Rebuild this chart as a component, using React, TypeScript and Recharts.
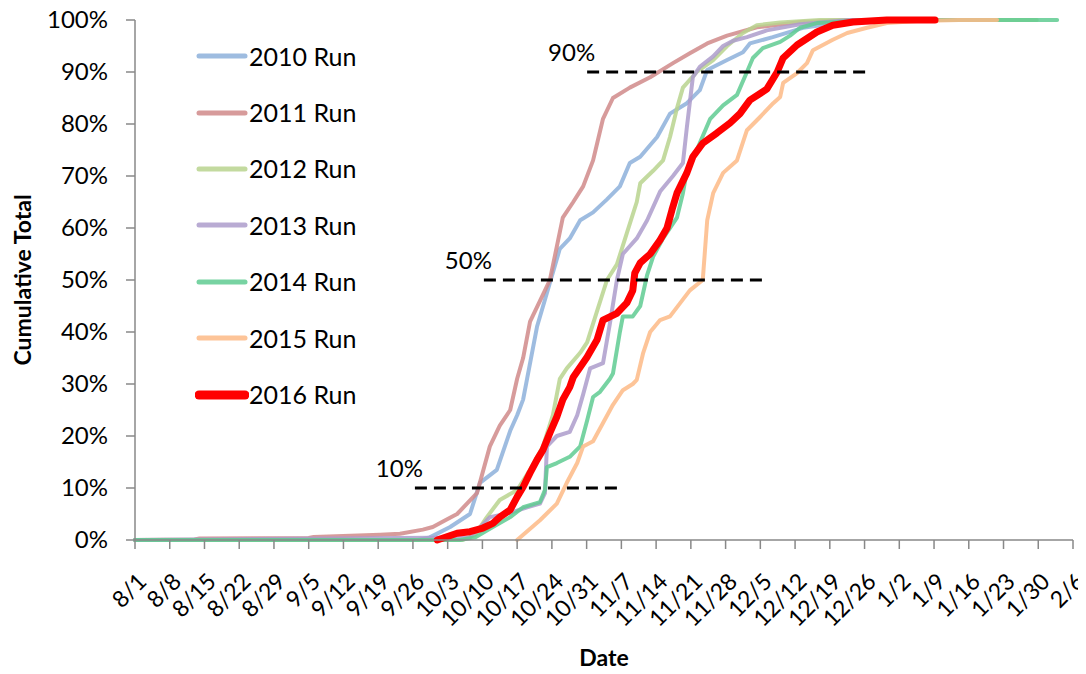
import React from 'react';
import { LineChart, Line, XAxis, YAxis, ReferenceLine, Legend } from 'recharts';

const FONT = "Lato, 'Liberation Sans', sans-serif";

const tickDays = [0, 7, 14, 21, 28, 35, 42, 49, 56, 63, 70, 77, 84, 91, 98, 105, 112, 119, 126, 133, 140, 147, 154, 161, 168, 175, 182, 189];
const tickLabels = ['8/1', '8/8', '8/15', '8/22', '8/29', '9/5', '9/12', '9/19', '9/26', '10/3', '10/10', '10/17', '10/24', '10/31', '11/7', '11/14', '11/21', '11/28', '12/5', '12/12', '12/19', '12/26', '1/2', '1/9', '1/16', '1/23', '1/30', '2/6'];
const yTicks = [0, 10, 20, 30, 40, 50, 60, 70, 80, 90, 100];

const days2010 = [0, 57, 59.4, 63.5, 67.5, 69.5, 72.9, 75.6, 77, 78.2, 79, 81, 83, 85.6, 87.6, 89.7, 92.3, 95.1, 97.7, 99.7, 101.8, 105.2, 107.8, 111.2, 113.8, 115.3, 119.3, 122.5, 123.9, 128.5, 134.6, 142, 148, 168];
const vals2010 = [0, 0, 0.5, 2.5, 5, 11, 13.5, 21, 24, 27, 31, 41, 47.5, 56, 58, 61.5, 63, 65.5, 68, 72.5, 73.7, 77.5, 82, 84, 86.5, 90.4, 92.3, 93.8, 95.5, 96.7, 98.5, 99.5, 100, 100];

const days2011 = [0, 12, 13, 35, 36, 49.4, 53.4, 58, 60, 62.9, 64.9, 68.9, 71.5, 73.5, 75.6, 77, 78.2, 79.6, 81.6, 83.6, 86.2, 88.3, 90.3, 92.3, 94.3, 96.3, 99.7, 103.8, 108.4, 111.8, 115.3, 119.3, 125.3, 134, 144, 168];
const vals2011 = [0, 0.1, 0.3, 0.4, 0.6, 1.0, 1.2, 2, 2.5, 4, 5, 9, 18, 22, 25, 31, 35, 42, 46, 50, 62, 65, 68, 73, 81, 85, 87, 89, 91.7, 93.6, 95.5, 97, 98.6, 99.6, 100, 100];

const days2012 = [0, 66, 68.5, 70.9, 73.5, 77, 79.6, 82.2, 84.2, 85.6, 87, 89.7, 91.1, 93.1, 95.1, 97.1, 99.1, 101.1, 101.8, 104.4, 106.4, 107.8, 109.2, 110.4, 113.2, 116.5, 119.3, 122.5, 125.3, 130, 138, 181.7];
const vals2012 = [0, 0, 1, 4.4, 7.7, 9.6, 13.5, 18, 24, 31, 33, 36, 38, 44, 50, 53, 59, 65, 68.6, 71, 73, 77.5, 83, 87, 90, 92.3, 95, 97.5, 99, 99.5, 100, 100];

const days2013 = [0, 67.5, 70.1, 71.5, 75.6, 79, 81.6, 82.6, 83, 85, 87.6, 89.1, 90.3, 91.7, 94.3, 95.7, 97.1, 98.3, 101.1, 103.2, 105.8, 108.4, 110.4, 111.2, 112.4, 113.8, 116.5, 118.5, 120.5, 123.3, 127.3, 134, 144, 172];
const vals2013 = [0, 0.5, 3, 4.4, 5.2, 6.3, 7, 9, 18, 20, 20.8, 24, 28, 33, 34, 41.7, 50, 55, 58, 61.5, 67, 70, 72.5, 79.4, 89, 91, 93, 95, 96, 96.7, 98, 99.2, 100, 100];

const days2014 = [0, 65.5, 68.5, 72.1, 75.6, 78.2, 81.6, 82.6, 83, 85, 87.6, 89.7, 91.1, 92.3, 93.7, 95.7, 96.3, 97.7, 98.3, 100.3, 101.8, 103.2, 104.4, 106.4, 109.2, 110.4, 111.2, 113.2, 115.9, 118.5, 121.3, 123.3, 124.5, 126.5, 130, 132, 134, 137.4, 141.4, 148, 185.8];
const vals2014 = [0, 0, 0.5, 2.5, 4.4, 6.3, 7.3, 9.6, 14, 14.8, 16, 18, 23, 27.5, 28.5, 31, 32, 40, 43, 43, 45, 51, 54.5, 58, 62, 66.7, 71, 75, 81, 83.6, 85.6, 90, 92.7, 94.6, 95.8, 97, 98.5, 99.4, 99.6, 100, 100];

const days2015 = [77, 81.6, 85, 87, 89.1, 90.3, 92.3, 94.3, 96.3, 98.3, 100.3, 101.1, 102.4, 103.8, 105.8, 107.8, 109.8, 111.8, 114.4, 115.3, 116.5, 118.5, 121.3, 123.3, 125.9, 128.6, 130, 130.6, 133.4, 135.4, 136.6, 140.6, 143.5, 147.5, 151.5, 157.6, 166, 173.7];
const vals2015 = [0, 3.8, 7, 11, 14.8, 18, 19, 22.5, 26, 28.8, 30, 30.8, 36, 40, 42.3, 43, 45.5, 48, 50, 61.5, 66.7, 70.6, 73, 78.8, 81.3, 84, 85.2, 87.9, 89.8, 91.7, 94.2, 96.2, 97.5, 98.5, 99.4, 99.8, 100, 100];

const days2016 = [60.9, 64.9, 67.5, 70.1, 72.1, 73.5, 75.6, 77, 78.2, 79.6, 81, 82.2, 83.6, 85, 86.2, 87.6, 88.3, 91.1, 93.1, 94.3, 97.1, 99.1, 100.3, 100.7, 101.8, 103.8, 105.8, 107.2, 108.2, 109.2, 111.2, 112.4, 114.4, 117.3, 119.9, 121.9, 123.9, 127.3, 129.4, 130.6, 133.4, 137.4, 140.6, 144.7, 151.5, 161.2];
const vals2016 = [0, 1.3, 1.6, 2.3, 3.2, 4.4, 5.8, 8.3, 10.2, 12.9, 15.4, 17.3, 20.6, 23.7, 27, 29.4, 31.3, 35.2, 38.5, 42.3, 43.6, 45.6, 48, 51.3, 53.3, 55, 57.7, 60, 63.5, 66.7, 70.6, 73.7, 76.3, 78.3, 80.2, 82, 84.6, 86.7, 90, 92.7, 95.2, 97.7, 99, 99.6, 100, 100];

const refLevels = [10, 50, 90];
const refStarts = [56.4, 70.3, 91.1];
const refEnds = [98.1, 126.5, 147.5];
const refLabels = ['10%', '50%', '90%'];

const seriesNames = ['2010 Run', '2011 Run', '2012 Run', '2013 Run', '2014 Run', '2015 Run', '2016 Run'];
const seriesColors = ['#8DB0DB', '#D08A8A', '#B8D48E', '#AD9CCB', '#5FCB92', '#FDBA86', '#FF0000'];
const seriesWidths = [4, 4, 4, 4, 4, 4, 7];
const seriesOpacity = [0.85, 0.85, 0.85, 0.85, 0.85, 0.85, 1];
const seriesDays = [days2010, days2011, days2012, days2013, days2014, days2015, days2016];
const seriesVals = [vals2010, vals2011, vals2012, vals2013, vals2014, vals2015, vals2016];

const seriesData = seriesDays.map((ds, i) => ds.map((d, j) => ({ day: d, value: seriesVals[i][j] })));

const XTick = (props: any) => {
  const { x, y, payload } = props;
  const idx = tickDays.indexOf(payload.value);
  const label = idx >= 0 ? tickLabels[idx] : '';
  return (
    <text
      x={0}
      y={0}
      transform={`translate(${x + 13},${y + 32}) rotate(-45)`}
      textAnchor="end"
      fontSize={23}
      fontFamily={FONT}
      fill="#000"
    >
      {label}
    </text>
  );
};

const YTick = (props: any) => {
  const { x, y, payload } = props;
  return (
    <text x={x} y={y + 8} textAnchor="end" fontSize={24} fontFamily={FONT} fill="#000">
      {payload.value + '%'}
    </text>
  );
};

const RefLabel = (props: any) => {
  const { viewBox, text } = props;
  if (!viewBox) return null;
  return (
    <text x={viewBox.x + 8} y={viewBox.y - 11} textAnchor="end" fontSize={24} fontFamily={FONT} fill="#000">
      {text}
    </text>
  );
};

const YTitle = (props: any) => {
  const vb = props.viewBox;
  if (!vb) return null;
  const cx = vb.x + 22;
  const cy = vb.y + vb.height / 2;
  return (
    <text
      x={cx}
      y={cy}
      transform={`rotate(-90 ${cx} ${cy})`}
      textAnchor="middle"
      dominantBaseline="central"
      fontSize={23}
      fontWeight="bold"
      fontFamily={FONT}
      fill="#000"
    >
      Cumulative Total
    </text>
  );
};

const XTitle = (props: any) => {
  const vb = props.viewBox;
  if (!vb) return null;
  return (
    <text
      x={vb.x + vb.width / 2}
      y={vb.y + 126}
      textAnchor="middle"
      fontSize={23}
      fontWeight="bold"
      fontFamily={FONT}
      fill="#000"
    >
      Date
    </text>
  );
};

const LegendContent = () => (
  <div style={{ fontFamily: FONT }}>
    {seriesNames.map((n, i) => (
      <div key={n} style={{ display: 'flex', alignItems: 'center', height: 56.4 }}>
        <svg width={54} height={12} style={{ display: 'block' }}>
          <line
            x1={4}
            y1={6}
            x2={50}
            y2={6}
            stroke={seriesColors[i]}
            strokeOpacity={seriesOpacity[i]}
            strokeWidth={i === 6 ? 9 : 5}
            strokeLinecap="round"
          />
        </svg>
        <span style={{ fontSize: 25, color: '#000', marginLeft: 0, lineHeight: '25px' }}>{n}</span>
      </div>
    ))}
  </div>
);

export default function App() {
  return (
    <div style={{ margin: -8, width: 1086, height: 674, overflow: 'hidden' }}>
      <LineChart width={1086} height={674} margin={{ top: 20, right: 13, bottom: 0, left: 0 }}>
        <XAxis
          type="number"
          dataKey="day"
          domain={[0, 189]}
          ticks={tickDays}
          interval={0}
          height={134}
          tick={<XTick />}
          tickSize={9}
          stroke="#888888"
          axisLine={{ stroke: '#888888', strokeWidth: 1.5 }}
          tickLine={{ stroke: '#888888', strokeWidth: 1.5 }}
          label={<XTitle />}
        />
        <YAxis
          type="number"
          domain={[0, 100]}
          ticks={yTicks}
          interval={0}
          width={135}
          tick={<YTick />}
          tickSize={9}
          tickMargin={18}
          stroke="#888888"
          axisLine={{ stroke: '#888888', strokeWidth: 1.5 }}
          tickLine={{ stroke: '#888888', strokeWidth: 1.5 }}
          label={<YTitle />}
        />
        <Legend
          layout="horizontal"
          verticalAlign="middle"
          align="center"
          content={<LegendContent />}
          wrapperStyle={{ position: 'absolute', left: 195, top: 28, width: 220, height: 400 }}
        />
        {seriesNames.map((n, i) => (
          <Line
            key={n}
            name={n}
            data={seriesData[i]}
            dataKey="value"
            type="linear"
            stroke={seriesColors[i]}
            strokeOpacity={seriesOpacity[i]}
            strokeWidth={seriesWidths[i]}
            strokeLinejoin="round"
            strokeLinecap="round"
            dot={false}
            activeDot={false}
            isAnimationActive={false}
          />
        ))}
        {refLevels.map((lv, i) => (
          <ReferenceLine
            key={lv}
            segment={[{ x: refStarts[i], y: lv }, { x: refEnds[i], y: lv }]}
            stroke="#000"
            strokeWidth={3}
            strokeDasharray="12 7"
            label={<RefLabel text={refLabels[i]} />}
          />
        ))}
      </LineChart>
    </div>
  );
}
